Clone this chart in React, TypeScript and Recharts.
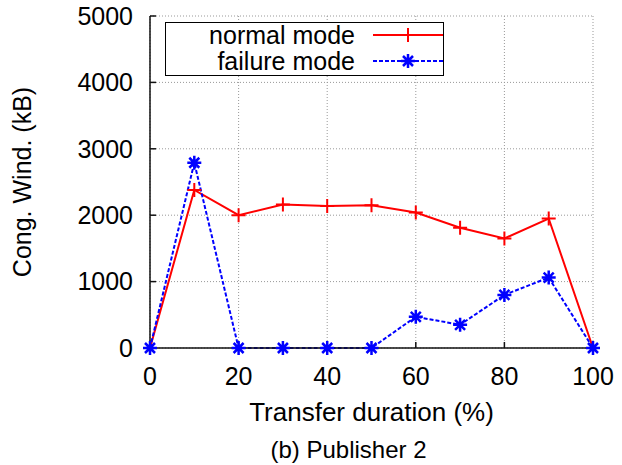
import { LineChart, Line, XAxis, YAxis, CartesianGrid, Legend, Label } from "recharts";

const durations = [0, 10, 20, 30, 40, 50, 60, 70, 80, 90, 100];
const normalMode = [0, 2380, 2000, 2160, 2140, 2150, 2040, 1810, 1650, 1950, 0];
const failureMode = [0, 2790, 0, 0, 0, 0, 470, 350, 800, 1060, 0];
const xTicks = [0, 20, 40, 60, 80, 100];
const yTicks = [0, 1000, 2000, 3000, 4000, 5000];

const FONT = '"Liberation Sans", Arial, Helvetica, sans-serif';
const RED = "#ff0000";
const BLUE = "#0000ff";

const rows = durations.map((d, i) => ({ d, normal: normalMode[i], failure: failureMode[i] }));

// gnuplot style point markers
const PlusDot = (p: any) => {
  const { cx, cy } = p;
  if (cx == null || cy == null) return null;
  return <path d={`M${cx - 7},${cy}H${cx + 7}M${cx},${cy - 7}V${cy + 7}`} stroke={RED} strokeWidth={2} fill="none" />;
};

const StarDot = (p: any) => {
  const { cx, cy } = p;
  if (cx == null || cy == null) return null;
  const r = 7;
  const k = 5;
  return (
    <path
      d={`M${cx - r},${cy}H${cx + r}M${cx},${cy - r}V${cy + r}M${cx - k},${cy - k}L${cx + k},${cy + k}M${cx - k},${cy + k}L${cx + k},${cy - k}`}
      stroke={BLUE}
      strokeWidth={2.5}
      fill="none"
    />
  );
};

const LegendBox = () => (
  <div
    style={{
      boxSizing: "border-box",
      width: "100%",
      height: "100%",
      border: "1.5px solid #000",
      background: "#fff",
      position: "relative",
      fontFamily: FONT,
      fontSize: 25,
      color: "#000",
    }}
  >
    {[
      { name: "normal mode", top: -1, color: RED, dash: undefined, dot: PlusDot },
      { name: "failure mode", top: 25, color: BLUE, dash: "4 2", dot: StarDot },
    ].map((r) => (
      <div key={r.name}>
        <div style={{ position: "absolute", right: 88, top: r.top, lineHeight: "26px", whiteSpace: "nowrap" }}>{r.name}</div>
        <svg style={{ position: "absolute", left: 207, top: r.top }} width={70} height={26}>
          <line x1={0} y1={13} x2={70} y2={13} stroke={r.color} strokeWidth={2} strokeDasharray={r.dash} />
          {r.dot({ cx: 35, cy: 13 })}
        </svg>
      </div>
    ))}
  </div>
);

const tickStyle = { fill: "#000", fontSize: 25, fontFamily: FONT };
const axisLine = { stroke: "#111", strokeWidth: 1.5 };

export default function App() {
  return (
    <div style={{ position: "absolute", left: 0, top: 0, background: "#fff" }}>
      <LineChart width={622} height={465} data={rows} margin={{ top: 16, right: 29, bottom: 37, left: 0 }}>
        <CartesianGrid stroke="#999" strokeDasharray="1 2" />
        <XAxis
          dataKey="d"
          type="number"
          domain={[0, 100]}
          ticks={xTicks}
          height={80}
          tickSize={-6}
          tickMargin={25}
          tick={tickStyle}
          axisLine={axisLine}
          tickLine={axisLine}
        >
          <Label
            content={(props: any) => {
              const vb = props.viewBox || { x: 150, y: 348, width: 443 };
              return (
                <g>
                  <text x={vb.x + vb.width / 2} y={vb.y + 73} textAnchor="middle" fontFamily={FONT} fontSize={26} fill="#000">
                    Transfer duration (%)
                  </text>
                  <text x={vb.x + vb.width / 2 - 23} y={vb.y + 110} textAnchor="middle" fontFamily={FONT} fontSize={24} fill="#000">
                    (b) Publisher 2
                  </text>
                </g>
              );
            }}
          />
        </XAxis>
        <XAxis
          xAxisId="top"
          orientation="top"
          dataKey="d"
          type="number"
          domain={[0, 100]}
          ticks={xTicks}
          height={0}
          tickSize={-6}
          tick={false}
          axisLine={axisLine}
          tickLine={axisLine}
        />
        <YAxis
          type="number"
          domain={[0, 5000]}
          ticks={yTicks}
          width={150}
          tickSize={-6}
          tickMargin={23}
          tick={tickStyle}
          axisLine={axisLine}
          tickLine={axisLine}
        >
          <Label
            content={(props: any) => {
              const vb = props.viewBox || { x: 0, y: 16, height: 332 };
              const cy = vb.y + vb.height / 2;
              return (
                <text x={31} y={cy} transform={`rotate(-90, 31, ${cy})`} textAnchor="middle" fontFamily={FONT} fontSize={25} fill="#000">
                  Cong. Wind. (kB)
                </text>
              );
            }}
          />
        </YAxis>
        <YAxis
          yAxisId="right"
          orientation="right"
          type="number"
          domain={[0, 5000]}
          ticks={yTicks}
          width={0}
          tickSize={-6}
          tick={false}
          axisLine={axisLine}
          tickLine={axisLine}
        />
        <Legend
          layout="vertical"
          align="center"
          verticalAlign="middle"
          wrapperStyle={{ left: 165, top: 22, width: 279, height: 54 }}
          content={() => <LegendBox />}
        />
        <Line
          dataKey="normal"
          stroke={RED}
          strokeWidth={2}
          dot={<PlusDot />}
          activeDot={false}
          isAnimationActive={false}
        />
        <Line
          dataKey="failure"
          stroke={BLUE}
          strokeWidth={2}
          strokeDasharray="4 2"
          dot={<StarDot />}
          activeDot={false}
          isAnimationActive={false}
        />
      </LineChart>
    </div>
  );
}
